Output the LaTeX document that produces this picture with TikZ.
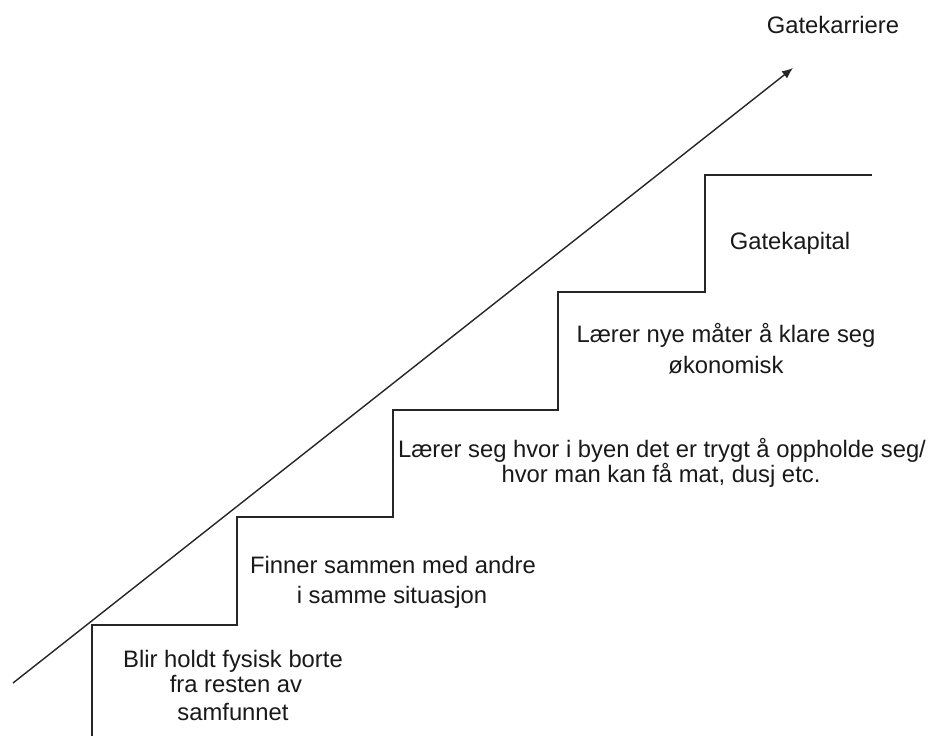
\documentclass[tikz,border=0pt]{standalone}
\usepackage{fontspec}
\setmainfont{Liberation Sans}
\usetikzlibrary{arrows.meta}
\begin{document}
\begin{tikzpicture}[x=1pt,y=-1pt,
  lbl/.style={anchor=base,inner sep=0pt,font=\fontsize{23.8}{27}\selectfont,text=black!90},
  stair/.style={draw=black!85,line width=1.4pt},
  growth/.style={draw=black!85,line width=1.4pt,-{Latex[length=11pt,width=9pt]}}]
\useasboundingbox[fill=white] (0,0) rectangle (950,736);
% arrow
\coordinate (a0) at (13,683);
\coordinate (a1) at (793,68);
\draw[growth] (a0) -- (a1);
% stairs
\coordinate (s0) at (92,736);
\coordinate (s1) at (92,625);
\coordinate (s2) at (237,625);
\coordinate (s3) at (237,517);
\coordinate (s4) at (393,517);
\coordinate (s5) at (393,410);
\coordinate (s6) at (558,410);
\coordinate (s7) at (558,292);
\coordinate (s8) at (705,292);
\coordinate (s9) at (705,175);
\coordinate (s10) at (872,175);
\draw[stair] (s0) -- (s1) -- (s2) -- (s3) -- (s4) -- (s5) -- (s6) -- (s7) -- (s8) -- (s9) -- (s10);
% labels
\node[lbl] (karriere) at (833,33) {Gatekarriere};
\node[lbl] (kapital) at (790,249) {Gatekapital};
\node[lbl] (okA) at (726,342) {Lærer nye måter å klare seg};
\node[lbl] (okB) at (726,373) {økonomisk};
\node[lbl] (byA) at (662,457) {Lærer seg hvor i byen det er trygt å oppholde seg/};
\node[lbl] (byB) at (661,482) {hvor man kan få mat, dusj etc.};
\node[lbl] (finA) at (393,573) {Finner sammen med andre};
\node[lbl] (finB) at (392,603) {i samme situasjon};
\node[lbl] (blA) at (233,667) {Blir holdt fysisk borte};
\node[lbl] (blB) at (236,692) {fra resten av};
\node[lbl] (blC) at (233,720) {samfunnet};
\end{tikzpicture}
\end{document}
